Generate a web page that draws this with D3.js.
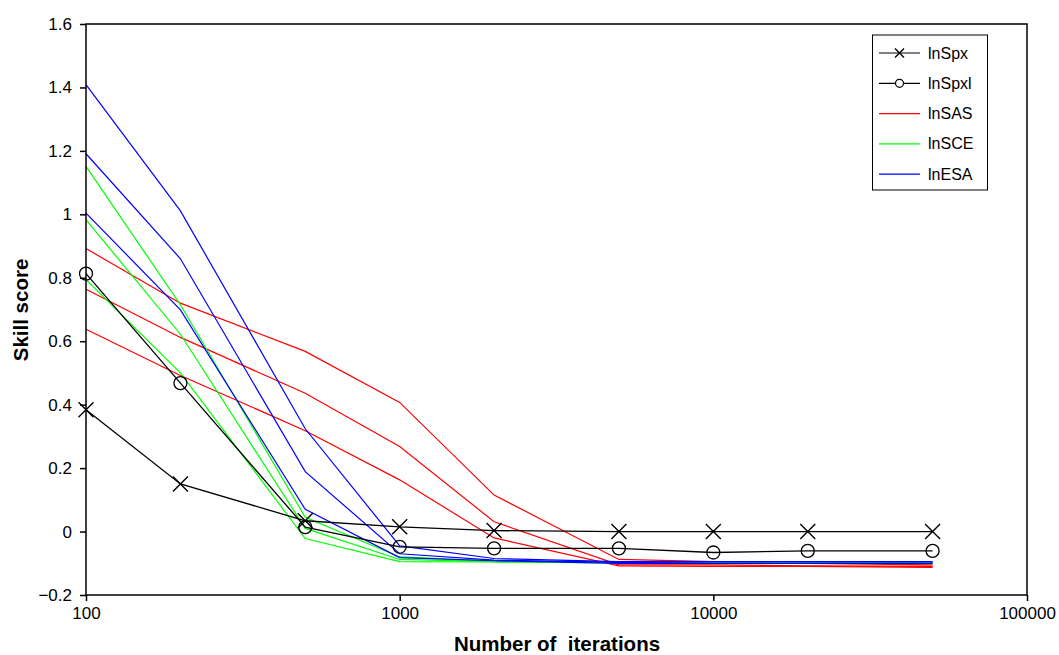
<!DOCTYPE html>
<html><head><meta charset="utf-8">
<script src="https://cdn.jsdelivr.net/npm/d3@7"></script>
<style>body{margin:0;background:#fff}svg{display:block;font-family:Arial,"Liberation Sans",sans-serif}</style>
</head><body><svg id="c" width="1059" height="655"></svg>
<script>
const iterations = [100, 200, 500, 1000, 2000, 5000, 10000, 20000, 50000];
const lnSpx  = [0.384, 0.150, 0.034, 0.015, 0.003, 0.0, 0.0, 0.0, 0.0];
const lnSpxl = [0.813, 0.468, 0.014, -0.048, -0.053, -0.053, -0.066, -0.061, -0.061];
const lnSAS1 = [0.892, 0.720, 0.568, 0.407, 0.115, -0.088, -0.095, -0.100, -0.105];
const lnSAS2 = [0.764, 0.612, 0.436, 0.268, 0.031, -0.105, -0.105, -0.108, -0.110];
const lnSAS3 = [0.638, 0.492, 0.318, 0.163, -0.020, -0.108, -0.110, -0.110, -0.113];
const lnSCE1 = [1.151, 0.715, 0.045, -0.080, -0.093, -0.097, -0.097, -0.097, -0.097];
const lnSCE2 = [0.983, 0.622, 0.010, -0.088, -0.095, -0.098, -0.098, -0.098, -0.098];
const lnSCE3 = [0.794, 0.500, -0.022, -0.095, -0.096, -0.099, -0.099, -0.099, -0.099];
const lnESA1 = [1.409, 1.011, 0.324, -0.045, -0.085, -0.095, -0.095, -0.095, -0.095];
const lnESA2 = [1.191, 0.860, 0.189, -0.070, -0.090, -0.097, -0.100, -0.100, -0.100];
const lnESA3 = [1.004, 0.699, 0.070, -0.082, -0.092, -0.100, -0.100, -0.100, -0.100];
const yTicks = [-0.2, 0, 0.2, 0.4, 0.6, 0.8, 1, 1.2, 1.4, 1.6];
const xTicks = [100, 1000, 10000, 100000];
const legendNames = ["lnSpx", "lnSpxl", "lnSAS", "lnSCE", "lnESA"];

const svg = d3.select("#c");
const L = 86, R = 1027, T = 24, B = 595;
const x = d3.scaleLog().domain([100, 100000]).range([L, R]);
const y = d3.scaleLinear().domain([-0.2, 1.6]).range([B, T]);
const line = d3.line().x((d, i) => x(iterations[i])).y(d => y(d));

const colored = [
  [lnSAS1, "#ff0000"], [lnSAS2, "#ff0000"], [lnSAS3, "#ff0000"],
  [lnSCE1, "#00ff00"], [lnSCE2, "#00ff00"], [lnSCE3, "#00ff00"],
  [lnESA1, "#0000ff"], [lnESA2, "#0000ff"], [lnESA3, "#0000ff"]
];
colored.forEach(([s, c]) => svg.append("path").attr("d", line(s)).attr("fill", "none").attr("stroke", c).attr("stroke-width", 1.2));

[lnSpx, lnSpxl].forEach(s => svg.append("path").attr("d", line(s)).attr("fill", "none").attr("stroke", "#000").attr("stroke-width", 1.3));

function xMark(g, cx, cy, h) {
  g.append("path").attr("d", `M${cx-h},${cy-h}L${cx+h},${cy+h}M${cx-h},${cy+h}L${cx+h},${cy-h}`)
   .attr("stroke", "#000").attr("stroke-width", 1.4).attr("fill", "none");
}
lnSpx.forEach((v, i) => xMark(svg, x(iterations[i]), y(v), 7.5));
lnSpxl.forEach((v, i) => svg.append("circle").attr("cx", x(iterations[i])).attr("cy", y(v)).attr("r", 6.5)
  .attr("fill", "none").attr("stroke", "#000").attr("stroke-width", 1.3));

// frame
svg.append("rect").attr("x", L).attr("y", T).attr("width", R - L).attr("height", B - T)
  .attr("fill", "none").attr("stroke", "#000").attr("stroke-width", 1.5);

const yAxis = svg.append("g").attr("transform", `translate(${L},0)`)
  .call(d3.axisLeft(y).tickValues(yTicks).tickSize(6).tickPadding(8).tickFormat(d => d3.format("")(+d.toFixed(1))));
const xAxis = svg.append("g").attr("transform", `translate(0,${B})`)
  .call(d3.axisBottom(x).tickValues(xTicks).tickSize(6).tickPadding(6).tickFormat(d3.format("d")));
[yAxis, xAxis].forEach(a => {
  a.select(".domain").remove();
  a.selectAll("line").attr("stroke", "#000").attr("stroke-width", 1.5);
  a.selectAll("text").attr("fill", "#000").attr("font-size", 17).attr("font-family", "Arial, 'Liberation Sans', sans-serif");
});

svg.append("text").attr("x", 557).attr("y", 651).attr("text-anchor", "middle")
  .attr("font-size", 20.5).attr("font-weight", "bold").attr("xml:space", "preserve").text("Number of  iterations");
svg.append("text").attr("transform", "translate(28,310) rotate(-90)").attr("text-anchor", "middle")
  .attr("font-size", 20.5).attr("font-weight", "bold").text("Skill score");

// legend
const lg = svg.append("g");
lg.append("rect").attr("x", 872.5).attr("y", 35).attr("width", 115).attr("height", 155)
  .attr("fill", "#fff").attr("stroke", "#000").attr("stroke-width", 1);
const legColors = ["#000", "#000", "#ff0000", "#00ff00", "#0000ff"];
legendNames.forEach((n, i) => {
  const yy = 53 + i * 30.3;
  lg.append("line").attr("x1", 879).attr("x2", 920).attr("y1", yy).attr("y2", yy).attr("stroke", legColors[i]).attr("stroke-width", 1.2);
  if (i === 0) xMark(lg, 899.5, yy, 4.5);
  if (i === 1) lg.append("circle").attr("cx", 899.5).attr("cy", yy).attr("r", 4).attr("fill", "#fff").attr("stroke", "#000").attr("stroke-width", 1.2);
  lg.append("text").attr("x", 928).attr("y", yy + 5.5).attr("font-size", 16).text(n);
});
</script></body></html>
